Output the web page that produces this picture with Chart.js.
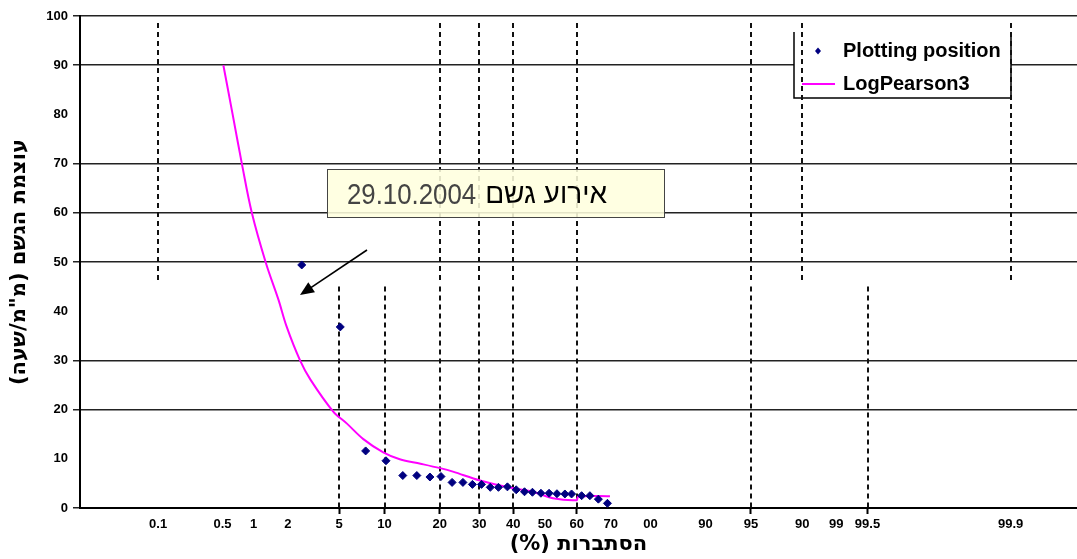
<!DOCTYPE html>
<html>
<head>
<meta charset="utf-8">
<script src="https://cdn.jsdelivr.net/npm/chart.js@4.4.1/dist/chart.umd.min.js"></script>
<style>
    html, body { margin: 0; padding: 0; background: #fff; }
    #wrap { width: 1077px; height: 559px; }
</style>
</head>
<body>
<div id="wrap"><canvas id="probChart" dir="rtl" width="1077" height="559"></canvas></div>
<script>
// Exceedance probability (%) of each plotted event
const plotProb = [2.6, 5.1, 7.6, 10.2, 12.8, 15.3, 17.9, 20.3, 22.9, 25.6, 28.1, 30.6, 33.1, 35.5,
    38.2, 40.9, 43.5, 46.0, 48.7, 51.3, 53.8, 56.3, 58.4, 61.5, 64.0, 66.5, 69.1];
// Rain intensity (mm/h) of each plotted event
const plotIntensity = [49.4, 36.8, 11.6, 9.6, 6.6, 6.6, 6.3, 6.4, 5.2, 5.2, 4.8, 4.8, 4.2, 4.2,
    4.3, 3.7, 3.3, 3.2, 3.0, 3.0, 2.9, 2.85, 2.85, 2.5, 2.5, 1.8, 0.95];

// LogPearson3 fitted curve
const lp3Prob = [0.51, 0.63, 0.77, 0.96, 1.29, 1.66, 1.95, 2.52, 3.05, 4.54, 5.66, 7.34, 9.82,
    12.3, 16.0, 20.1, 23.1, 30.2, 40.0, 46.2, 52.5, 60.0, 60.4, 69.8];
const lp3Intensity = [90, 80, 70.2, 60, 49.8, 42.4, 36.9, 30, 26.1, 19.6, 17.2, 14.0, 11.3,
    9.9, 9.0, 8.1, 7.4, 5.6, 4.0, 3.3, 2.0, 1.6, 2.3, 2.4];

// x axis ticks (probability %) and the labels printed under them
const tickProbs = [0.1, 0.5, 1, 2, 5, 10, 20, 30, 40, 50, 60, 70, 80, 90, 95, 98, 99, 99.5, 99.99];
const tickLabels = ['0.1', '0.5', '1', '2', '5', '10', '20', '30', '40', '50', '60', '70', '00',
    '90', '95', '90', '99', '99.5', '99.9'];

// dashed probability guides: upper half and lower half of the plot
const upperGuides = [0.1, 20, 30, 40, 60, 95, 98, 99.99];
const lowerGuides = [5, 10, 20, 30, 40, 60, 95, 99.5];

const yTitle = 'עוצמת הגשם (מ"מ/שעה)';
const xTitle = 'הסתברות (%)';
const noteDate = '29.10.2004';
const noteLabel = 'אירוע גשם';

// normal quantile (probability paper axis)
function probit(p) {
    const a = [-3.969683028665376e+01, 2.209460984245205e+02, -2.759285104469687e+02, 1.383577518672690e+02, -3.066479806614716e+01, 2.506628277459239e+00];
    const b = [-5.447609879822406e+01, 1.615858368580409e+02, -1.556989798598866e+02, 6.680131188771972e+01, -1.328068155288572e+01];
    const c = [-7.784894002430293e-03, -3.223964580411365e-01, -2.400758277161838e+00, -2.549732539343734e+00, 4.374664141464968e+00, 2.938163982698783e+00];
    const d = [7.784695709041462e-03, 3.224671290700398e-01, 2.445134137142996e+00, 3.754408661907416e+00];
    const pl = 0.02425;
    let q, r;
    if (p < pl) {
        q = Math.sqrt(-2 * Math.log(p));
        return (((((c[0] * q + c[1]) * q + c[2]) * q + c[3]) * q + c[4]) * q + c[5]) / ((((d[0] * q + d[1]) * q + d[2]) * q + d[3]) * q + 1);
    }
    if (p > 1 - pl) {
        q = Math.sqrt(-2 * Math.log(1 - p));
        return -(((((c[0] * q + c[1]) * q + c[2]) * q + c[3]) * q + c[4]) * q + c[5]) / ((((d[0] * q + d[1]) * q + d[2]) * q + d[3]) * q + 1);
    }
    q = p - 0.5;
    r = q * q;
    return (((((a[0] * r + a[1]) * r + a[2]) * r + a[3]) * r + a[4]) * r + a[5]) * q / (((((b[0] * r + b[1]) * r + b[2]) * r + b[3]) * r + b[4]) * r + 1);
}

const zOf = p => probit(p / 100);
const HIDDEN_Y = [80, 40, 10];

// Legend, dashed guides, note box and arrow
const overlay = {
    id: 'overlay',
    beforeDatasetsDraw(chart) {
        const { ctx, chartArea: a, scales: { x, y } } = chart;
        ctx.save();

        // legend box
        const lx = a.left + 714, ly = a.top + 16, lw = 217, lh = 66;
        ctx.fillStyle = '#fff';
        ctx.fillRect(lx, ly, lw, lh);
        ctx.strokeStyle = '#000';
        ctx.lineWidth = 1.5;
        ctx.beginPath();
        ctx.moveTo(lx, ly); ctx.lineTo(lx, ly + lh); ctx.lineTo(lx + lw, ly + lh); ctx.lineTo(lx + lw, ly);
        ctx.stroke();

        ctx.fillStyle = '#000080';
        ctx.beginPath();
        const mx = lx + 24, my = ly + 19;
        ctx.moveTo(mx, my - 3.5); ctx.lineTo(mx + 3, my); ctx.lineTo(mx, my + 3.5); ctx.lineTo(mx - 3, my);
        ctx.closePath(); ctx.fill();

        ctx.strokeStyle = '#ff00ff';
        ctx.lineWidth = 2;
        ctx.beginPath();
        ctx.moveTo(lx + 8, ly + 52); ctx.lineTo(lx + 41, ly + 52);
        ctx.stroke();

        ctx.fillStyle = '#000';
        ctx.font = 'bold 20px "Liberation Sans", Arial, sans-serif';
        ctx.textAlign = 'left';
        ctx.textBaseline = 'middle';
        ctx.fillText('Plotting position', lx + 49, ly + 19);
        ctx.fillText('LogPearson3', lx + 49, ly + 52);

        // dashed guides
        ctx.setLineDash([5, 4]);
        ctx.strokeStyle = '#111';
        ctx.lineWidth = 2;
        const guide = (p, v0, v1) => {
            const px = Math.round(x.getPixelForValue(zOf(p)));
            ctx.beginPath();
            ctx.moveTo(px, y.getPixelForValue(v0));
            ctx.lineTo(px, y.getPixelForValue(v1));
            ctx.stroke();
        };
        upperGuides.forEach(p => guide(p, 98.6, 46));
        lowerGuides.forEach(p => guide(p, 45, 0));
        ctx.restore();
    },
    afterDatasetsDraw(chart) {
        const { ctx, chartArea: a } = chart;
        ctx.save();

        // note box
        const bx = a.left + 247, by = a.top + 153, bw = 337, bh = 48;
        ctx.fillStyle = 'rgba(255, 255, 222, 0.88)';
        ctx.fillRect(bx, by, bw, bh);
        ctx.strokeStyle = '#444';
        ctx.lineWidth = 1;
        ctx.strokeRect(bx + 0.5, by + 0.5, bw, bh);

        ctx.textBaseline = 'alphabetic';
        ctx.fillStyle = '#444';
        ctx.textAlign = 'left';
        ctx.font = '30px "Liberation Sans", Arial, sans-serif';
        ctx.save();
        ctx.translate(bx + 20, by + 35);
        ctx.scale(0.86, 1);
        ctx.fillText(noteDate, 0, 0);
        ctx.restore();
        ctx.fillStyle = '#000';
        ctx.textAlign = 'right';
        ctx.font = '28px "Liberation Sans", Arial, sans-serif';
        ctx.fillText(noteLabel, bx + 280, by + 34);

        // arrow
        const x0 = a.left + 287, y0 = a.top + 234, x1 = a.left + 220, y1 = a.top + 279;
        const ang = Math.atan2(y1 - y0, x1 - x0);
        ctx.strokeStyle = '#000';
        ctx.lineWidth = 1.6;
        ctx.beginPath();
        ctx.moveTo(x0, y0);
        ctx.lineTo(x1 - 10 * Math.cos(ang), y1 - 10 * Math.sin(ang));
        ctx.stroke();
        ctx.fillStyle = '#000';
        ctx.beginPath();
        ctx.moveTo(x1, y1);
        ctx.lineTo(x1 - 14 * Math.cos(ang) + 6 * Math.sin(ang), y1 - 14 * Math.sin(ang) - 6 * Math.cos(ang));
        ctx.lineTo(x1 - 14 * Math.cos(ang) - 6 * Math.sin(ang), y1 - 14 * Math.sin(ang) + 6 * Math.cos(ang));
        ctx.closePath();
        ctx.fill();
        ctx.restore();
    }
};

function init() {
    const ctx = document.getElementById('probChart').getContext('2d');
    const tickFont = { family: '"Liberation Sans", Arial, sans-serif', size: 13, weight: 'bold' };
    const titleFont = { family: '"DejaVu Sans", sans-serif', size: 21, weight: 'bold' };

    new Chart(ctx, {
        type: 'scatter',
        data: {
            datasets: [
                {
                    label: 'Plotting position',
                    data: plotProb.map((p, i) => ({ x: zOf(p), y: plotIntensity[i] })),
                    pointStyle: 'rectRot',
                    pointRadius: 4,
                    backgroundColor: '#000080',
                    borderColor: '#000080',
                    borderWidth: 1,
                    order: 1
                },
                {
                    label: 'LogPearson3',
                    data: lp3Prob.map((p, i) => ({ x: zOf(p), y: lp3Intensity[i] })),
                    showLine: true,
                    borderColor: '#ff00ff',
                    borderWidth: 2,
                    pointRadius: 0,
                    tension: 0.35,
                    order: 2
                }
            ]
        },
        options: {
            responsive: false,
            animation: false,
            events: [],
            layout: { autoPadding: false, padding: { top: 16, right: 0, left: 0, bottom: 0 } },
            plugins: {
                legend: { display: false },
                tooltip: { enabled: false }
            },
            scales: {
                x: {
                    type: 'linear',
                    min: -3.714,
                    max: 4.249,
                    afterBuildTicks: scale => { scale.ticks = tickProbs.map(p => ({ value: zOf(p) })); },
                    afterFit: scale => {
                        scale.height = 51;
                        scale.paddingLeft = 0;
                        scale.paddingRight = 0;
                    },
                    ticks: {
                        autoSkip: false,
                        maxRotation: 0,
                        padding: 3,
                        color: '#000',
                        font: tickFont,
                        callback: (v, i) => tickLabels[i]
                    },
                    grid: {
                        drawOnChartArea: false,
                        tickLength: 6,
                        tickWidth: 2,
                        tickColor: c => lowerGuides.includes(tickProbs[c.index]) ? '#000' : 'rgba(0,0,0,0)'
                    },
                    border: { display: true, color: '#000', width: 2 },
                    title: {
                        display: true,
                        text: xTitle,
                        color: '#000',
                        font: titleFont,
                        padding: { top: 0, bottom: 2 }
                    }
                },
                y: {
                    min: 0,
                    max: 100,
                    afterFit: scale => { scale.width = 80; },
                    ticks: { stepSize: 10, padding: 5, color: '#000', font: tickFont },
                    grid: {
                        tickLength: 7,
                        lineWidth: 1.5,
                        color: c => HIDDEN_Y.includes(c.tick && c.tick.value) ? 'rgba(0,0,0,0)' : '#222'
                    },
                    border: { display: true, color: '#000', width: 2 },
                    title: {
                        display: true,
                        text: yTitle,
                        color: '#000',
                        font: titleFont,
                        padding: { top: 7, bottom: 0 }
                    }
                }
            }
        },
        plugins: [overlay]
    });
}

window.addEventListener('DOMContentLoaded', init);
</script>
</body>
</html>
